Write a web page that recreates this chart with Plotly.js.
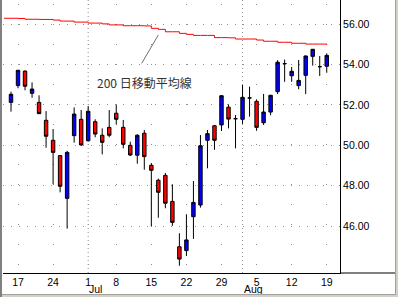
<!DOCTYPE html>
<html><head><meta charset="utf-8">
<script src="https://cdn.plot.ly/plotly-3.0.1.min.js"></script>
<style>
body{margin:0;background:#fff}
#wrap{position:relative;width:398px;height:297px;background:#d4d0c8;overflow:hidden}
#lb{position:absolute;left:0;top:0;width:2px;height:297px;background:#808080}
#bl{position:absolute;left:2px;top:294px;width:394px;height:1px;background:#a0a0a0}
#rl{position:absolute;left:395px;top:0;width:1px;height:295px;background:#a0a0a0}
#chart{position:absolute;left:2px;top:0;width:393px;height:294px;background:#fff}
</style></head>
<body>
<div id="wrap"><div id="lb"></div><div id="bl"></div><div id="rl"></div><div id="chart"></div></div>
<script>
const dates = ['2002-06-13','2002-06-14','2002-06-17','2002-06-18','2002-06-19','2002-06-20','2002-06-21',
 '2002-06-24','2002-06-25','2002-06-26','2002-06-27','2002-06-28',
 '2002-07-01','2002-07-02','2002-07-03','2002-07-05','2002-07-08','2002-07-09','2002-07-10','2002-07-11','2002-07-12',
 '2002-07-15','2002-07-16','2002-07-17','2002-07-18','2002-07-19','2002-07-22','2002-07-23','2002-07-24','2002-07-25','2002-07-26',
 '2002-07-29','2002-07-30','2002-07-31','2002-08-01','2002-08-02','2002-08-05','2002-08-06','2002-08-07','2002-08-08','2002-08-09',
 '2002-08-12','2002-08-13','2002-08-14','2002-08-15','2002-08-16','2002-08-19'];
const candleDates = dates.slice(1);
const open  = [52.13,52.96,53.68,52.58,52.13,51.24,50.25,49.49,47.37,50.48,51.29,50.23,51.17,50.50,50.89,51.59,50.89,50.00,49.51,50.60,
 49.01,48.27,48.51,47.22,44.97,44.78,46.46,47.04,50.25,50.97,51.01,51.89,51.32,51.29,52.35,52.18,51.12,51.65,52.66,54.05,53.45,52.96,53.47,54.41,53.90,53.92];
const high  = [52.66,53.74,53.72,53.12,52.48,51.70,50.81,49.52,49.73,51.88,51.75,51.95,51.29,50.84,51.75,52.00,51.26,50.18,50.55,50.76,
 49.12,48.35,48.63,48.07,45.64,46.58,48.23,50.51,50.76,51.00,52.49,52.03,51.50,52.99,52.91,52.28,52.55,52.50,54.22,54.25,53.88,54.23,54.45,54.78,54.43,54.56];
const low   = [51.67,52.83,52.73,52.36,51.55,49.88,48.07,47.67,45.87,50.13,49.97,50.18,50.40,49.55,50.40,51.04,49.85,49.47,49.09,48.79,
 45.97,46.41,46.88,46.01,44.03,44.51,45.36,46.91,48.86,49.78,50.71,50.84,49.85,51.06,51.42,50.72,51.01,51.49,52.54,53.15,53.15,52.78,52.54,53.95,53.44,53.60];
const close = [52.53,53.72,52.93,52.79,51.57,50.45,49.65,47.97,49.65,51.55,50.02,51.69,50.56,50.15,50.50,51.29,50.05,49.52,50.50,49.44,
 48.76,47.67,47.13,46.18,44.36,45.31,47.17,49.98,50.58,50.25,52.46,51.30,51.32,52.38,52.35,50.89,51.65,52.48,54.12,54.05,53.67,53.22,54.43,54.76,53.90,54.46];
const ma200 = [56.30,56.30,56.29,56.25,56.25,56.24,56.24,56.21,56.16,56.16,56.11,56.11,56.06,56.06,56.02,55.97,55.97,55.93,55.93,55.93,
 55.92,55.80,55.75,55.63,55.63,55.55,55.50,55.45,55.45,55.45,55.34,55.34,55.33,55.27,55.27,55.27,55.22,55.16,55.16,55.11,55.11,55.06,55.06,55.02,55.02,55.02,54.97];
const tickDates = ['2002-06-17','2002-06-24','2002-07-01','2002-07-08','2002-07-15','2002-07-22','2002-07-29','2002-08-05','2002-08-12','2002-08-19'];
const tickText  = ['17','24','1','8','15','22','29','5','12','19'];
const monthStarts = ['2002-07-01','2002-08-01'];
const monthNames  = ['Jul','Aug'];
const yTicks = [46,48,50,52,54,56];
const maLabel = '200 日移動平均線';

const traces = [
 {type:'scatter', mode:'lines', x:dates, y:ma200, line:{color:'#ff0000', width:1, shape:'hv'}, hoverinfo:'skip'},
 {type:'candlestick', x:candleDates, open:open, high:high, low:low, close:close,
  increasing:{line:{color:'#000000', width:1}, fillcolor:'#0000ff'},
  decreasing:{line:{color:'#000000', width:1}, fillcolor:'#ff0000'},
  hoverinfo:'skip'}
];

const shapes = monthStarts.map(d => ({type:'line', xref:'x', yref:'paper', x0:d, x1:d, y0:0, y1:1,
  line:{color:'#909090', width:1, dash:'1px,3px'}, layer:'below'}));
shapes.push({type:'line', xref:'paper', yref:'paper', x0:1, x1:1.2, y0:0, y1:0, line:{color:'#000', width:1}});
shapes.push({type:'line', xref:'paper', yref:'paper', x0:0.4116, y0:0.7681, x1:0.4608, y1:0.8718, line:{color:'#707070', width:1}});

const annotations = monthStarts.map((d,i) => ({xref:'x', yref:'paper', x:d, y:0, text:monthNames[i], showarrow:false,
  xanchor:'left', yanchor:'top', yshift:-9, xshift:0, borderpad:0,
  font:{family:'Liberation Sans, Arial, sans-serif', size:10.5, color:'#000'}}));
annotations.push({xref:'paper', yref:'paper', x:0.273, y:0.696, text:maLabel, showarrow:false, xanchor:'left', yanchor:'middle',
  font:{family:'Noto Sans CJK JP, sans-serif', size:12, color:'#333333'}});

const layout = {
 width:393, height:294, margin:{l:1, r:55, t:0, b:21, pad:0},
 paper_bgcolor:'#ffffff', plot_bgcolor:'#ffffff', showlegend:false, hovermode:false,
 font:{family:'Liberation Sans, Arial, sans-serif', size:10.5, color:'#000'},
 xaxis:{type:'category', categoryorder:'array', categoryarray:dates, range:[-0.14, 47.89],
  tickmode:'array', tickvals:tickDates, ticktext:tickText, ticks:'', showgrid:true, ticklabelstandoff:-1,
  gridcolor:'#909090', gridwidth:1, griddash:'0px,4px,1px,15px', tickfont:{size:10.5},
  showline:true, linecolor:'#000', linewidth:1, zeroline:false, rangeslider:{visible:false}, fixedrange:true},
 yaxis:{side:'right', range:[43.67, 57.205], tickmode:'array', tickvals:yTicks, ticktext:yTicks.map(v=>v.toFixed(2)),
  ticks:'', showgrid:true, gridcolor:'#909090', gridwidth:1, griddash:'1px,7px', tickfont:{size:10.5},
  showline:true, linecolor:'#000', linewidth:1, zeroline:false, fixedrange:true},
 shapes:shapes, annotations:annotations
};
Plotly.newPlot('chart', traces, layout, {displayModeBar:false, staticPlot:true});
</script>
</body></html>
